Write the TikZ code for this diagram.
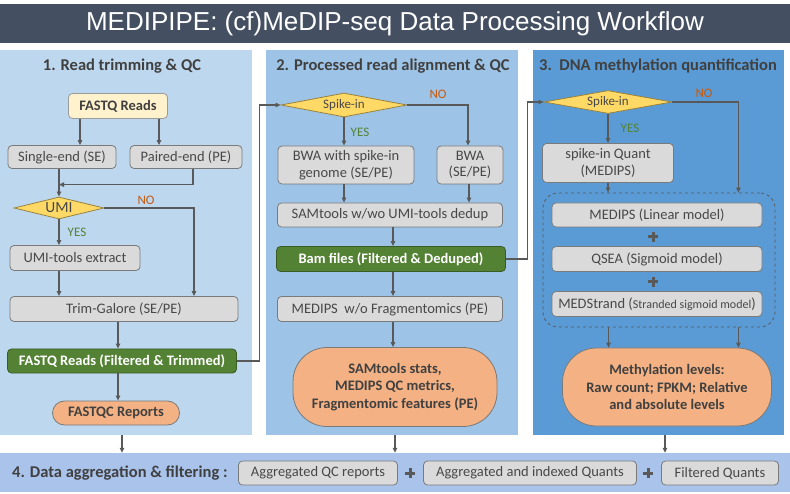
\documentclass[tikz,border=0pt]{standalone}
\usepackage{fontspec}
\setmainfont{Carlito}
\newfontfamily\titlefont{Liberation Sans}
\usetikzlibrary{arrows.meta,shapes.geometric}
\definecolor{MPTitle}{HTML}{445062}
\definecolor{MPPanelA}{HTML}{BDD7EE}
\definecolor{MPPanelB}{HTML}{9DC3E6}
\definecolor{MPPanelC}{HTML}{5B9BD5}
\definecolor{MPBar}{HTML}{A9C3EB}
\definecolor{MPBox}{HTML}{DADADA}
\definecolor{MPLine}{HTML}{595959}
\definecolor{MPText}{HTML}{484848}
\definecolor{MPDark}{HTML}{404040}
\definecolor{MPYellow}{HTML}{FFF2CC}
\definecolor{MPGold}{HTML}{FFD966}
\definecolor{MPGreen}{HTML}{548235}
\definecolor{MPOrange}{HTML}{F4B183}
\definecolor{MPNo}{HTML}{C55A11}

\begin{document}
\begin{tikzpicture}[
    x=1pt, y=-1pt,
    font=\fontsize{14.5}{16.5}\selectfont,
    % default arrow tip
    >={Triangle[length=5pt,width=4.5pt]},
    flow/.style={->, draw=MPLine, line width=1.1pt},
    panel/.style={draw=none, inner sep=0pt},
    ptitle/.style={font=\bfseries\fontsize{16.5}{18}\selectfont, text=MPDark, inner sep=0pt},
    gbox/.style={draw=MPLine!80, fill=MPBox, text=MPText, rounded corners=4pt,
                 line width=0.8pt, inner sep=1pt, align=center},
    ybox/.style={gbox, fill=MPYellow, draw=MPLine!60, text=MPDark, font=\bfseries\fontsize{14.5}{16.5}\selectfont},
    gnbox/.style={gbox, fill=MPGreen, draw=MPGreen!70!black, text=white, font=\bfseries\fontsize{14.5}{16.5}\selectfont},
    obox/.style={gbox, fill=MPOrange, text=MPDark, font=\bfseries\fontsize{14.5}{17.5}\selectfont},
    dia/.style={diamond, aspect=5, draw=MPGold!60!black, fill=MPGold, text=MPText,
                inner sep=0pt, line width=0.8pt, font=\fontsize{13}{15}\selectfont},
    grpbox/.style={draw=MPLine, dashed, rounded corners=15pt, line width=0.8pt, inner sep=0pt},
    % heavy plus sign
    plus/.style={minimum size=10pt, inner sep=0pt, path picture={
        \draw[MPLine, line width=3pt] (path picture bounding box.north) -- (path picture bounding box.south);
        \draw[MPLine, line width=3pt] (path picture bounding box.west) -- (path picture bounding box.east);}},
    nolab/.style={text=MPNo, font=\fontsize{13}{15}\selectfont, inner sep=0pt},
    yeslab/.style={text=MPGreen, font=\fontsize{13}{15}\selectfont, inner sep=0pt}
]
    \useasboundingbox (0,0) rectangle (790,494);

    % --- 1. title and backgrounds ---
    \node[panel, fill=MPTitle, minimum width=790, minimum height=39, text=white,
          font=\titlefont\fontsize{26}{28}\selectfont] (title) at (395,23.5)
          {MEDIPIPE: (cf)MeDIP-seq Data Processing Workflow};
    \node[panel, fill=MPPanelA, minimum width=252, minimum height=385] (p1) at (126,242.5) {};
    \node[panel, fill=MPPanelB, minimum width=252, minimum height=385] (p2) at (392,242.5) {};
    \node[panel, fill=MPPanelC, minimum width=251, minimum height=385] (p3) at (658.5,242.5) {};
    \node[panel, fill=MPBar, minimum width=790, minimum height=39] (bar) at (395,472.5) {};

    % --- 2. read trimming & QC ---
    \node[ptitle] (t1) at (122,66) {1. Read trimming \& QC};
    \node[ybox, minimum width=99, minimum height=25] (fq) at (118,106) {FASTQ Reads};
    \node[gbox, minimum width=108, minimum height=23] (se) at (62,157) {Single-end (SE)};
    \node[gbox, minimum width=112, minimum height=23] (pe) at (186,157) {Paired-end (PE)};
    \node[dia, minimum width=90, minimum height=22, font=\fontsize{15.5}{17}\selectfont] (umi) at (59,208) {UMI};
    \node[gbox, minimum width=130, minimum height=25] (umix) at (75,258) {UMI-tools extract};
    \node[gbox, minimum width=228, minimum height=25] (trim) at (124,309) {Trim-Galore (SE/PE)};
    \node[gnbox, minimum width=229, minimum height=24] (fqf) at (122,361) {FASTQ Reads (Filtered \& Trimmed)};
    \node[obox, minimum width=127, minimum height=24, rounded corners=12pt] (fqr) at (116,413) {FASTQC Reports};
    \node[nolab] (no1) at (146,200) {NO};
    \node[yeslab] (yes1) at (77,232) {YES};

    % --- 3. processed read alignment & QC ---
    \node[ptitle] (t2) at (393,66) {2. Processed read alignment \& QC};
    \node[dia, minimum width=126, minimum height=24] (sp1) at (344,105) {Spike-in};
    \node[gbox, minimum width=136, minimum height=38] (bws) at (346,165) {BWA with spike-in\\genome (SE/PE)};
    \node[gbox, minimum width=66, minimum height=38] (bwa) at (470,165) {BWA\\(SE/PE)};
    \node[gbox, minimum width=225, minimum height=24] (sam) at (390,215) {SAMtools w/wo UMI-tools dedup};
    \node[gnbox, minimum width=229, minimum height=25] (bam) at (391,259) {Bam files (Filtered \& Deduped)};
    \node[gbox, minimum width=225, minimum height=25] (mfr) at (390,309) {MEDIPS\ \ w/o Fragmentomics (PE)};
    \node[obox, minimum width=204, minimum height=79, rounded corners=34pt] (qc2) at (395,387)
        {SAMtools stats,\\MEDIPS QC metrics,\\Fragmentomic features (PE)};
    \node[nolab] (no2) at (438,94) {NO};
    \node[yeslab] (yes2) at (360,132) {YES};

    % --- 4. DNA methylation quantification ---
    \node[ptitle] (t3) at (658,66) {3.\ \ DNA methylation quantification};
    \node[dia, minimum width=128, minimum height=23] (sp2) at (608,102) {Spike-in};
    \node[gbox, minimum width=131, minimum height=39] (sq) at (608,163) {spike-in Quant\\(MEDIPS)};
    \node[grpbox, minimum width=232, minimum height=134] (grp) at (659,260) {};
    \node[gbox, minimum width=210, minimum height=24] (lin) at (657,215) {MEDIPS (Linear model)};
    \node[plus] (pl1) at (653,237) {};
    \node[gbox, minimum width=210, minimum height=25] (qsea) at (657,259) {QSEA (Sigmoid model)};
    \node[plus] (pl2) at (653,282) {};
    \node[gbox, minimum width=210, minimum height=25] (meds) at (657,304)
        {MEDStrand ({\fontsize{12}{14}\selectfont Stranded sigmoid model})};
    \node[obox, minimum width=209, minimum height=78, rounded corners=34pt] (meth) at (667,387)
        {Methylation levels:\\Raw count; FPKM; Relative\\and absolute levels};
    \node[nolab] (no3) at (704,93) {NO};
    \node[yeslab] (yes3) at (630,128) {YES};

    % --- 5. data aggregation & filtering ---
    \node[ptitle, anchor=west] (t4) at (12,473) {4. Data aggregation \& filtering :};
    \node[gbox, minimum width=159, minimum height=24] (aqc) at (318,473) {Aggregated QC reports};
    \node[plus] (pl3) at (410,473) {};
    \node[gbox, minimum width=213, minimum height=24] (aiq) at (530,473) {Aggregated and indexed Quants};
    \node[plus] (pl4) at (648,473) {};
    \node[gbox, minimum width=117, minimum height=24] (fltq) at (720,473) {Filtered Quants};

    % --- 6. connectors ---
    % panel 1
    \draw[flow] ([xshift=-38]fq.south) -- ([xshift=-38]fq.south |- se.north);
    \draw[flow] ([xshift=41]fq.south) -- ([xshift=41]fq.south |- pe.north);
    \draw[flow] (se.south -| umi.north) -- (umi.north);
    \coordinate (m1) at ([yshift=12]umi.north);
    \draw[flow] ([xshift=7]pe.south) |- (m1);
    \draw[flow] (umi.east) -| ([xshift=70]trim.north);
    \draw[flow] (umi.south) -- (umi.south |- umix.north);
    \draw[flow] (umix.south -| umi.south) -- (umi.south |- trim.north);
    \draw[flow] ([xshift=-6]trim.south) -- ([xshift=-6]trim.south |- fqf.north);
    \draw[flow] ([xshift=-4]fqf.south) -- ([xshift=-4]fqf.south |- fqr.north);
    \coordinate (j1) at ([xshift=-21]sp1.west);
    \draw[flow] (fqf.east) -| (j1) -- (sp1.west);

    % panel 2
    \draw[flow] (sp1.south) -- (sp1.south |- bws.north);
    \draw[flow] (sp1.east) -| ([xshift=-2]bwa.north);
    \draw[flow] ([xshift=-2]bws.south) -- ([xshift=-2]bws.south |- sam.north);
    \draw[flow] ([xshift=-1]bwa.south) -- ([xshift=-1]bwa.south |- sam.north);
    \draw[flow] ([xshift=3]sam.south) -- ([xshift=3]sam.south |- bam.north);
    \draw[flow] ([xshift=2]bam.south) -- ([xshift=2]bam.south |- mfr.north);
    \draw[flow] ([xshift=3]mfr.south) -- ([xshift=3]mfr.south |- qc2.north);
    \coordinate (j2) at ([xshift=-16]sp2.west);
    \draw[flow] (bam.east) -| (j2) -- (sp2.west);

    % panel 3
    \draw[flow] (sp2.south) -- (sp2.south |- sq.north);
    \draw[flow] (sp2.east) -| ([xshift=-37]grp.north east);
    \draw[flow] (sq.south) -- (sq.south |- grp.north);
    \draw[flow] ([xshift=66]grp.south west) -- ([xshift=66]grp.south west |- meth.north);
    \draw[flow] ([xshift=-37]grp.south east) -- ([xshift=-37]grp.south east |- meth.north);

    % down to aggregation
    \draw[flow] (p1.south -| fqf.south) -- (bar.north -| fqf.south);
    \draw[flow] (p2.south -| qc2.south) -- (bar.north -| qc2.south);
    \draw[flow] ([xshift=-2]p3.south -| meth.south) -- ([xshift=-2]bar.north -| meth.south);

\end{tikzpicture}
\end{document}
